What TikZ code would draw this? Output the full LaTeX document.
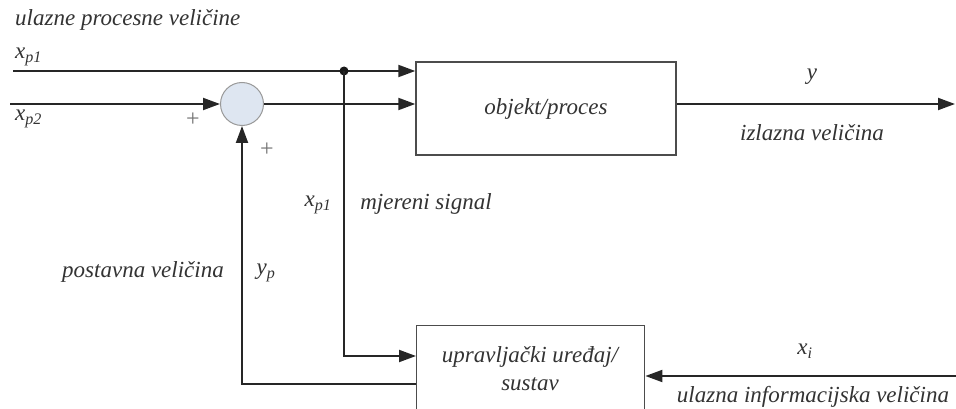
\documentclass[tikz,border=0pt]{standalone}
\usepackage{fontspec}
\setmainfont{Liberation Serif}
\usetikzlibrary{arrows.meta}
\newcommand{\sig}[2]{\textit{#1}\textsubscript{\textit{#2}}}
\begin{document}
\begin{tikzpicture}[x=1pt,y=-1pt,
  lbl/.style={font=\fontsize{23}{28}\selectfont\itshape, text=black!80, inner sep=0pt},
  pls/.style={font=\fontsize{24}{26}\selectfont, text=black!55, inner sep=0pt},
  blk/.style={draw=black!70, line width=1.4pt, inner sep=0pt},
  wire/.style={line width=2pt, draw=black!85},
  arr/.style={wire, -{Triangle[length=17pt,width=12pt]}},
]
\useasboundingbox (0,0) rectangle (956,409);
% blocks
\node[blk, minimum width=260pt, minimum height=93pt, lbl] (obj) at (546,108.5) {objekt/proces};
\node[blk, minimum width=228pt, minimum height=116pt, anchor=north west] (ctl) at (416,325) {};
\node[lbl, align=center] (ctltext) at (530,369) {upravljački uređaj/\\sustav};
\node[circle, draw=black!40, line width=1pt, fill={rgb,255:red,222;green,230;blue,241}, minimum size=43pt, inner sep=0pt] (sum) at (242,104) {};
% coordinates
\coordinate (xp1s) at (13,71);
\coordinate (dot) at (344,71);
\coordinate (xp2s) at (10,104);
\coordinate (yout) at (955,104);
\coordinate (mj) at (416,356);
\coordinate (fb) at (416,384);
\coordinate (xis) at (956,376);
% connectors
\draw[arr] (xp1s) -- (obj.west |- dot);
\fill[black!90] (dot) circle (4.5pt);
\draw[arr] (xp2s) -- (sum.west);
\draw[arr] (sum.east) -- (obj.west |- sum.east);
\draw[arr] (obj.east |- yout) -- (yout);
\draw[arr] (dot) |- (mj);
\draw[arr] (fb) -| (sum.south);
\draw[arr] (xis) -- (ctl.east |- xis);
% labels
\node[lbl, anchor=west] (t1) at (15,20) {ulazne procesne veličine};
\node[lbl, anchor=west] (l1) at (15,57) {\sig{x}{p1}};
\node[lbl, anchor=west] (l2) at (15,119) {\sig{x}{p2}};
\node[pls] (p1) at (193,120) {+};
\node[pls] (p2) at (267,150) {+};
\node[lbl] (ly) at (812,77) {y};
\node[lbl] (lizl) at (812,133) {izlazna veličina};
\node[lbl] (lxp1b) at (318,205) {\sig{x}{p1}};
\node[lbl] (lmj) at (426,204) {mjereni signal};
\node[lbl] (lpost) at (143,272) {postavna veličina};
\node[lbl] (lyp) at (266,273) {\sig{y}{p}};
\node[lbl] (lxi) at (805,351) {\sig{x}{i}};
\node[lbl] (luiv) at (813,397) {ulazna informacijska veličina};
\end{tikzpicture}
\end{document}
